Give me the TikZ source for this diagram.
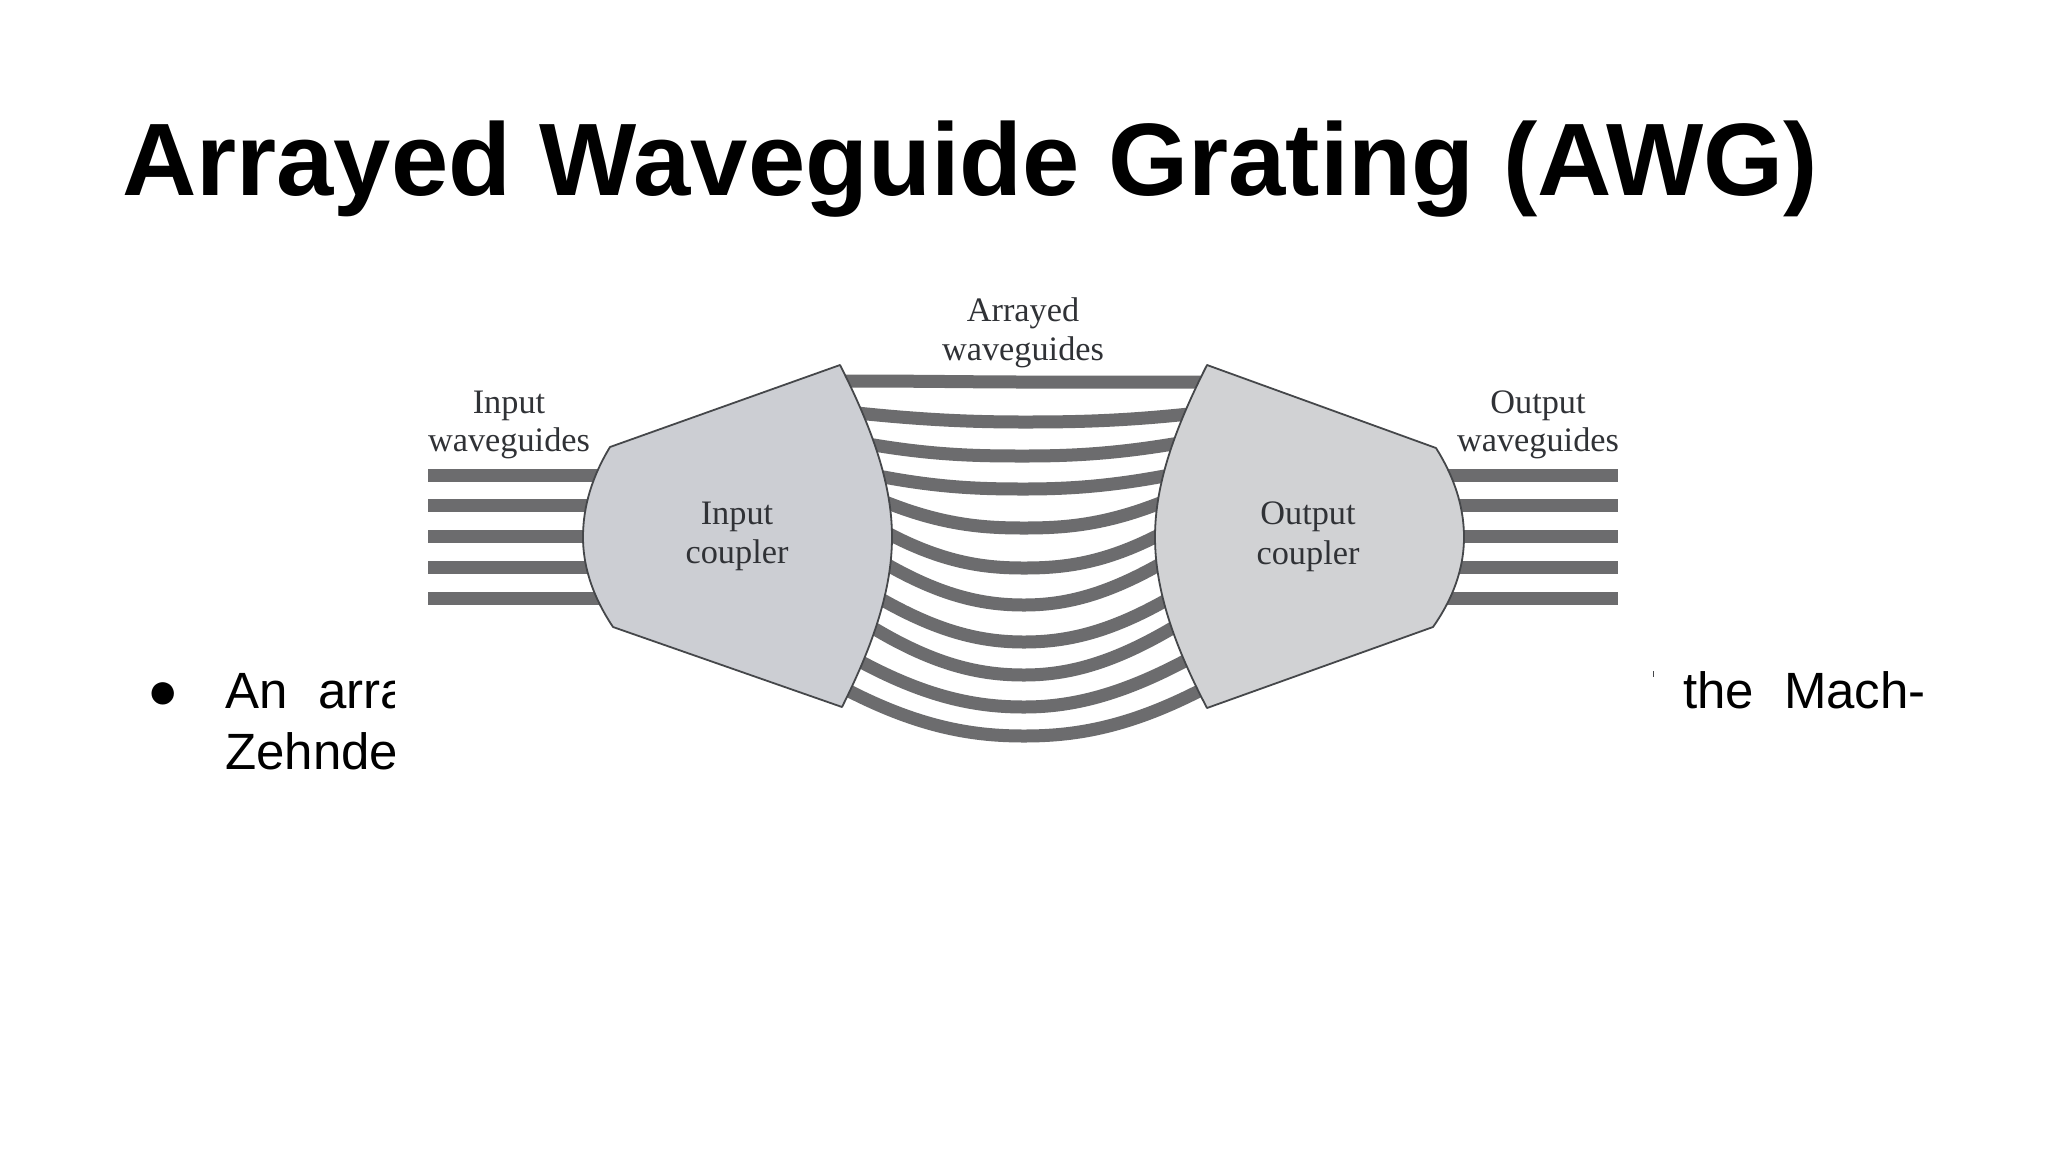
\documentclass[tikz,border=0pt]{standalone}
\usepackage{fontspec}
\setmainfont{Liberation Sans}
\newfontfamily\labelfont{Liberation Serif}
\definecolor{guide}{HTML}{6C6C6E}
\definecolor{inputfill}{HTML}{CCCED3}
\definecolor{outputfill}{HTML}{D1D2D4}
\definecolor{edgecol}{HTML}{45474A}
\definecolor{labelcol}{HTML}{303236}
\tikzset{
  wg/.style={draw=guide,line width=13pt},
  couplerbox/.style={draw=edgecol,line width=1.8pt,line join=round},
  lab/.style={font=\labelfont\fontsize{34.3}{38}\selectfont,text=labelcol,anchor=base,inner sep=0pt},
  body/.style={font=\fontsize{51}{60}\selectfont,text=black,anchor=base west,inner sep=0pt},
}
\begin{document}
\begin{tikzpicture}[x=1pt,y=-1pt]
\useasboundingbox (0,0) rectangle (2048,1152);
\fill[white] (0,0) rectangle (2048,1152);
% title
\node[anchor=base west,inner sep=0pt,font=\bfseries\fontsize{103}{120}\selectfont] (title) at (122,195) {Arrayed Waveguide Grating (AWG)};
% body text, hidden behind the pasted figure
\node[inner sep=0pt,font=\fontsize{52}{60}\selectfont] (bullet) at (163,696) {●};
\node[body] (l1a) at (225,708) {An\hspace{30.5pt}arra};
\node[body] (l2a) at (225,769) {Zehnde};
\node[body] (l1b) at (1683,708) {the\hspace{30pt}Mach-};
\fill[white] (395,640) rectangle (1653,800);
\draw[edgecol,line width=1pt] (1653.5,671) -- (1653.5,677);
% input and output waveguides
\foreach \y in {475,505,536,567,598}{
  \draw[wg] (428,\y) -- (620,\y);
  \draw[wg] (1425,\y) -- (1618,\y);
}
% arrayed waveguides: left x,y / right x,y / mid y / slope
\foreach \lx/\ly/\rx/\ry/\my/\s in {
  849/381/1200/382/382/0,
  867/414/1179/415/422/.1,
  880/446/1167/445/456/.16,
  889/478/1159/477/489/.18,
  893/505/1155/505/528/.38,
  895/537/1155/537/568/.5,
  893/568/1155/567/605/.55,
  888/603/1161/603/642/.55,
  880/632/1169/630/675/.58,
  867/665/1181/663/707/.52,
  853/693/1195/693/736/.5}{
  \draw[wg] ({\lx-12},{\ly-12*\s}) -- (\lx,\ly)
     .. controls ({\lx+0.42*(1024-\lx)},{\ly+0.42*(1024-\lx)*\s}) and ({1024-0.28*(1024-\lx)},\my) .. (1024,\my)
     .. controls ({1024+0.28*(\rx-1024)},\my) and ({\rx-0.42*(\rx-1024)},{\ry+0.42*(\rx-1024)*\s}) .. (\rx,\ry)
     -- ({\rx+12},{\ry-12*\s});
}
% couplers
\draw[couplerbox,fill=inputfill] (840,365)
  .. controls (873,430) and (892,485) .. (892,537)
  .. controls (892,590) and (873,645) .. (842,707)
  -- (613,627)
  .. controls (595,600) and (583,570) .. (583,537)
  .. controls (583,505) and (593,475) .. (610,447) -- cycle;
\draw[couplerbox,fill=outputfill] (1207,365)
  .. controls (1174,430) and (1155,485) .. (1155,537)
  .. controls (1155,590) and (1174,645) .. (1207,708)
  -- (1433,627)
  .. controls (1452,600) and (1464,570) .. (1464,537)
  .. controls (1464,505) and (1453,475) .. (1436,448) -- cycle;
% labels
\node[lab] (arr1) at (1023,321) {Arrayed};
\node[lab] (arr2) at (1023,360) {waveguides};
\node[lab] (in1) at (509,413) {Input};
\node[lab] (in2) at (509,451) {waveguides};
\node[lab] (out1) at (1538,413) {Output};
\node[lab] (out2) at (1538,451) {waveguides};
\node[lab] (ic1) at (737,524) {Input};
\node[lab] (ic2) at (737,563) {coupler};
\node[lab] (oc1) at (1308,524) {Output};
\node[lab] (oc2) at (1308,564) {coupler};
\end{tikzpicture}
\end{document}
